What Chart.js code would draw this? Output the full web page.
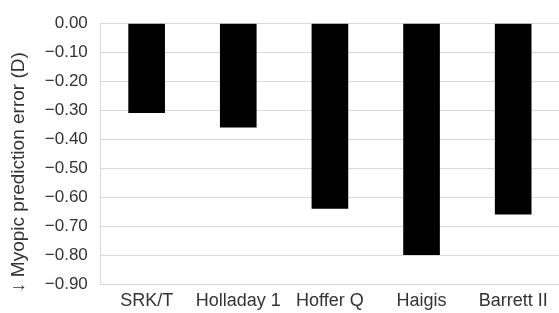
<!DOCTYPE html>
<html>
<head>
<meta charset="utf-8">
<script src="https://cdn.jsdelivr.net/npm/chart.js@4"></script>
<style>
  html, body { margin: 0; padding: 0; background: #fff; }
  #wrap { width: 559px; height: 313px; }
</style>
</head>
<body>
<div id="wrap"><canvas id="grafico"></canvas></div>
<script>
const categorias = ["SRK/T", "Holladay 1", "Hoffer Q", "Haigis", "Barrett II"];
const valores = [-0.31, -0.36, -0.64, -0.80, -0.66];
const yMin = -0.9;
const yMax = 0;
const yPasso = 0.1;

const fmt = v => {
    const s = Math.abs(v).toFixed(2);
    return (v < -0.0001 ? '\u2212' : '') + s;
};

const grafico = document.getElementById('grafico');
new Chart(grafico, {
    type: 'bar',
    data: {
        labels: categorias,
        datasets: [{
            label: 'Myopic prediction error',
            data: valores,
            backgroundColor: '#000000',
            borderWidth: 0,
            barPercentage: 0.8,
            categoryPercentage: 0.5
        }]
    },
    options: {
        responsive: true,
        maintainAspectRatio: false,
        animation: false,
        layout: { padding: { top: 17, right: 0, left: 7, bottom: 3 } },
        plugins: {
            legend: { display: false },
            tooltip: { enabled: false }
        },
        scales: {
            y: {
                min: yMin,
                max: yMax,
                border: { display: true, color: '#d9d9d9' },
                grid: { color: '#d9d9d9', drawTicks: false },
                ticks: {
                    stepSize: yPasso,
                    padding: 13,
                    color: '#333333',
                    font: { family: 'Liberation Sans, Arial, sans-serif', size: 17 },
                    callback: v => fmt(v)
                },
                title: {
                    display: true,
                    // trailing spaces nudge the rotated title down like the original
                    text: '\u2193 Myopic prediction error (D)\u00a0\u00a0\u00a0\u00a0\u00a0\u00a0\u00a0',
                    color: '#333333',
                    padding: { top: 0, bottom: 2 },
                    font: { family: 'Liberation Sans, Arial, sans-serif', size: 19 }
                }
            },
            x: {
                position: 'bottom',
                border: { display: true, color: '#d9d9d9' },
                grid: { display: false },
                ticks: {
                    padding: 0,
                    color: '#333333',
                    maxRotation: 0,
                    autoSkip: false,
                    font: { family: 'Liberation Sans, Arial, sans-serif', size: 18, lineHeight: 1 }
                }
            }
        }
    }
});
</script>
</body>
</html>
